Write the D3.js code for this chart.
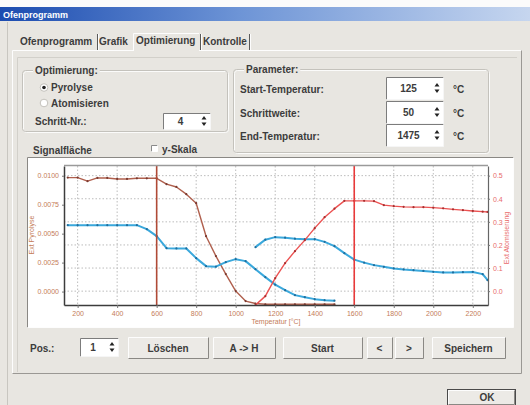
<!DOCTYPE html>
<html>
<head>
<meta charset="utf-8">
<script src="https://cdn.jsdelivr.net/npm/d3@7"></script>
<style>
  body { margin: 0; background: #e8e6e1; }
  svg { display: block; font-family: "Liberation Sans", Arial, sans-serif; }
</style>
</head>
<body>
<svg id="dlg" width="530" height="405"></svg>
<script>
// temperature steps [°C]
const temps = [150, 200, 250, 300, 350, 400, 450, 500, 550, 600, 650, 700, 750, 800, 850, 900, 950, 1000, 1050,
  1100, 1150, 1200, 1250, 1300, 1350, 1400, 1450, 1500, 1550, 1600, 1650, 1700, 1750, 1800, 1850, 1900, 1950,
  2000, 2050, 2100, 2150, 2200, 2250, 2275]
// Ext Pyrolyse (left axis)
const extPyrolyse = [0.00984, 0.00984, 0.00953, 0.00981, 0.00981, 0.00972, 0.00972, 0.00978, 0.00978, 0.00978,
  0.00927, 0.00903, 0.00841, 0.00763, 0.00478, 0.00306, 0.00151, 0.00004, -0.00082, -0.00103, -0.0011, -0.0011,
  -0.0011, -0.0011, -0.0011, -0.0011, -0.0011, -0.0011,
  null, null, null, null, null, null, null, null, null, null, null, null, null, null, null, null]
// blue curves (right axis)
const signalA = [0.2857, 0.2857, 0.2857, 0.2857, 0.2857, 0.2857, 0.2857, 0.2857, 0.2684, 0.2381, 0.1861, 0.1848,
  0.1848, 0.1429, 0.1082, 0.1061, 0.1255, 0.1385, 0.1299, 0.0952, 0.0606, 0.0281, 0.0043, -0.0173, -0.026,
  -0.0346, -0.039, -0.0411,
  null, null, null, null, null, null, null, null, null, null, null, null, null, null, null, null]
const signalB = [null, null, null, null, null, null, null, null, null, null, null, null, null, null, null, null,
  null, null, null,
  0.1905, 0.2229, 0.2338, 0.2316, 0.2273, 0.2251, 0.2251, 0.2134, 0.1948, 0.1645, 0.1364, 0.1234, 0.1126, 0.1052,
  0.0983, 0.0939, 0.0909, 0.0874, 0.0835, 0.081, 0.081, 0.0823, 0.0831, 0.0736, 0.0476]
// Ext Atomisierung (right axis)
const extAtom = [null, null, null, null, null, null, null, null, null, null, null, null, null, null, null, null,
  null, null, null,
  -0.0606, -0.0216, 0.0563, 0.1212, 0.1732, 0.2208, 0.2727, 0.3203, 0.3571, 0.3909, 0.3909, 0.3909, 0.3896, 0.3723,
  0.368, 0.365, 0.3636, 0.3636, 0.3615, 0.3584, 0.3541, 0.3506, 0.3472, 0.3442, 0.3429]

const xTicks = [200, 400, 600, 800, 1000, 1200, 1400, 1600, 1800, 2000, 2200]
const pyroTicks = [0, 0.0025, 0.005, 0.0075, 0.01]
const atomTicks = [0, 0.1, 0.2, 0.3, 0.4, 0.5]
const markTemps = [600, 1600]

const tabs = ['Ofenprogramm', 'Grafik', 'Optimierung', 'Kontrolle']
const paramLabels = ['Start-Temperatur:', 'Schrittweite:', 'End-Temperatur:']
const paramValues = [125, 50, 1475]
const buttons = ['Löschen', 'A -> H', 'Start', '<', '>', 'Speichern']

const svg = d3.select('#dlg')
const txt = '#3c3c3c'

// ---------- helpers ----------
function bevel(g, x, y, w, h, tl, br, fill) {
    g.append('rect').attr('x', x).attr('y', y).attr('width', w).attr('height', h).attr('fill', fill || 'none')
    g.append('path').attr('d', `M${x},${y + h}V${y}H${x + w}`).attr('fill', 'none').attr('stroke', tl)
    g.append('path').attr('d', `M${x + w},${y}V${y + h}H${x}`).attr('fill', 'none').attr('stroke', br)
}
function label(g, x, y, s, opt) {
    opt = opt || {}
    return g.append('text').attr('x', x).attr('y', y).text(s)
        .attr('font-size', opt.size || 10).attr('font-weight', opt.weight || 'bold')
        .attr('fill', opt.color || txt).attr('text-anchor', opt.anchor || 'start')
}
function spin(g, x, y, w, h, val) {
    bevel(g, x + 0.5, y + 0.5, w, h, '#7c7c7c', '#f6f6f6', '#fff')
    label(g, x + (w - 12) / 2, y + h / 2 + 3.5, val, {anchor: 'middle'})
    let cx = x + w - 6, cy = y + h / 2
    g.append('path').attr('d', `M${cx - 2.5},${cy - 1.5}L${cx + 2.5},${cy - 1.5}L${cx},${cy - 5}Z`).attr('fill', '#222')
    g.append('path').attr('d', `M${cx - 2.5},${cy + 1.5}L${cx + 2.5},${cy + 1.5}L${cx},${cy + 5}Z`).attr('fill', '#222')
}
function group(g, x, y, w, h, title) {
    g.append('rect').attr('x', x + 1.5).attr('y', y + 1.5).attr('width', w).attr('height', h).attr('rx', 3)
        .attr('fill', 'none').attr('stroke', '#fbfbfa')
    g.append('rect').attr('x', x + 0.5).attr('y', y + 0.5).attr('width', w).attr('height', h).attr('rx', 3)
        .attr('fill', 'none').attr('stroke', '#c4c2bc')
    let t = label(g, x + 13, y + 3.5, title)
    let bb = t.node().getBBox()
    g.insert('rect', () => t.node()).attr('x', bb.x - 2).attr('y', bb.y).attr('width', bb.width + 4)
        .attr('height', bb.height).attr('fill', '#e8e6e1')
}

// ---------- window frame ----------
const defs = svg.append('defs')
const grad = defs.append('linearGradient').attr('id', 'title')
grad.append('stop').attr('offset', '0%').attr('stop-color', '#1c4cb0')
grad.append('stop').attr('offset', '45%').attr('stop-color', '#6d94d6')
grad.append('stop').attr('offset', '100%').attr('stop-color', '#c6d6ef')
svg.append('rect').attr('width', 530).attr('height', 7).attr('fill', '#fbfbfb')
svg.append('rect').attr('y', 7).attr('width', 530).attr('height', 14).attr('fill', 'url(#title)')
label(svg, 3, 18, 'Ofenprogramm', {size: 9, color: '#fff'})

// tab page
const page = svg.append('g')
page.append('path').attr('d', 'M7.5,22V405').attr('stroke', '#c8c6c0')
bevel(page, 12.5, 50.5, 509, 323, '#fdfdfd', '#9a9894')
page.append('path').attr('d', 'M17.5,372V57.5H517').attr('fill', 'none').attr('stroke', '#d2d0ca')
// tab strip
const tabX = [20, 99, 136, 203]
const sepX = [97, 200, 249]
tabs.forEach((t, i) => label(page, tabX[i], i === 2 ? 44 : 45, t))
page.append('path').attr('d', 'M133.5,50V33.5H199').attr('fill', 'none').attr('stroke', '#fdfdfd')
page.append('rect').attr('x', 134).attr('y', 50).attr('width', 65).attr('height', 1.5).attr('fill', '#e8e6e1')
sepX.forEach(s => {
    page.append('path').attr('d', `M${s + 0.5},34V50`).attr('stroke', '#5a5a5a')
    page.append('path').attr('d', `M${s + 1.5},34V50`).attr('stroke', '#fdfdfd')
})

// ---------- Optimierung group ----------
const opt = svg.append('g')
group(opt, 22, 70, 205, 61, 'Optimierung:')
opt.append('circle').attr('cx', 44).attr('cy', 87.5).attr('r', 3.8).attr('fill', '#fff').attr('stroke', '#c4c2bc')
opt.append('circle').attr('cx', 44).attr('cy', 87.5).attr('r', 1.8).attr('fill', '#222')
opt.append('circle').attr('cx', 44).attr('cy', 103).attr('r', 3.8).attr('fill', '#fff').attr('stroke', '#c4c2bc')
label(opt, 51, 91, 'Pyrolyse')
label(opt, 51, 106.5, 'Atomisieren')
label(opt, 35, 124.5, 'Schritt-Nr.:')
spin(opt, 163, 113, 47, 16, 4)

// ---------- Parameter group ----------
const par = svg.append('g')
group(par, 233, 69, 255, 83, 'Parameter:')
const boxY = [77, 101, 124]
paramLabels.forEach((p, i) => {
    label(par, 240, boxY[i] + 16, p)
    spin(par, 386, boxY[i], 57, 22, paramValues[i])
    label(par, 453, boxY[i] + 16, '°C')
})

// Signalfläche header
label(svg, 33, 153.5, 'Signalfläche')
bevel(svg, 151.5, 145.5, 6, 6, '#8a8a8a', '#fff', '#fff')
label(svg, 162, 152.5, 'y-Skala')

// ---------- chart ----------
const chart = svg.append('g')
bevel(chart, 27.5, 157.5, 486, 170, '#8a8884', '#fdfdfd', '#fff')

const x = d3.scaleLinear().domain([131, 2277]).range([64, 488])
const yL = d3.scaleLinear().domain([-0.00116, 0.01084]).range([305, 166])
const yR = d3.scaleLinear().domain([-0.06, 0.5418]).range([305, 166])

// grid
chart.selectAll('.vg').data(xTicks).enter().append('line')
    .attr('x1', d => x(d)).attr('x2', d => x(d)).attr('y1', 166).attr('y2', 305)
    .attr('stroke', '#bcbcbc').attr('stroke-dasharray', '1.5,2')
chart.selectAll('.hg').data(atomTicks).enter().append('line')
    .attr('x1', 64).attr('x2', 488).attr('y1', d => yR(d)).attr('y2', d => yR(d))
    .attr('stroke', '#bcbcbc').attr('stroke-dasharray', '1.5,2')

defs.append('clipPath').attr('id', 'plotclip').append('rect')
    .attr('x', 64).attr('y', 166).attr('width', 424).attr('height', 139)
const plot = chart.append('g').attr('clip-path', 'url(#plotclip)')

function drawSeries(values, scale, color, width, dot) {
    let pts = temps.map((t, i) => [t, values[i]])
    let line = d3.line().defined(d => d[1] != null).x(d => x(d[0])).y(d => scale(d[1]))
    plot.append('path').attr('d', line(pts)).attr('fill', 'none')
        .attr('stroke', color).attr('stroke-width', width).attr('stroke-linejoin', 'round')
    plot.selectAll(null).data(pts.filter(d => d[1] != null)).enter().append('circle')
        .attr('cx', d => x(d[0])).attr('cy', d => scale(d[1])).attr('r', 1.1).attr('fill', dot)
}
drawSeries(extPyrolyse, yL, '#b0604e', 1.4, '#7a3a30')
drawSeries(signalA, yR, '#3aa8dc', 2, '#1f6e9e')
drawSeries(signalB, yR, '#3aa8dc', 2, '#1f6e9e')
drawSeries(extAtom, yR, '#ec5252', 1.4, '#a83030')

// temperature markers
chart.selectAll('.mk').data(markTemps).enter().append('line')
    .attr('x1', d => x(d)).attr('x2', d => x(d)).attr('y1', 166).attr('y2', 305)
    .attr('stroke', (d, i) => i === 0 ? '#b04a36' : '#e83a3a').attr('stroke-width', 1.6)

// axes
function styleAxis(g, color) {
    g.attr('font-family', null).attr('font-size', null)
    g.selectAll('text').attr('font-size', 7).attr('fill', color)
    g.selectAll('line').attr('stroke', '#777')
}
chart.append('path').attr('d', 'M64,165.5H488').attr('stroke', '#9a9a9a').attr('stroke-width', 1.5)
const axL = chart.append('g').attr('transform', 'translate(64,0)')
    .call(d3.axisLeft(yL).tickValues(pyroTicks).tickFormat(d3.format('.4f')).tickSize(2).tickSizeOuter(0))
styleAxis(axL, '#c47c58')
axL.select('.domain').attr('stroke', '#3c3c3c').attr('stroke-width', 1.5)
const axR = chart.append('g').attr('transform', 'translate(488,0)')
    .call(d3.axisRight(yR).tickValues(atomTicks).tickFormat(d3.format('.1f')).tickSize(2).tickSizeOuter(0))
styleAxis(axR, '#e86a6a')
axR.select('.domain').attr('stroke', '#666').attr('stroke-width', 1.2)
const axB = chart.append('g').attr('transform', 'translate(0,305)')
    .call(d3.axisBottom(x).tickValues(xTicks).tickFormat(d3.format('d')).tickSize(3).tickSizeOuter(0))
styleAxis(axB, '#c47c58')
axB.select('.domain').attr('stroke', '#3c3c3c').attr('stroke-width', 1.5)

chart.append('text').attr('transform', 'translate(34,235) rotate(-90)').attr('text-anchor', 'middle')
    .attr('font-size', 7).attr('fill', '#c47c58').text('Ext Pyrolyse')
chart.append('text').attr('transform', 'translate(509,238) rotate(-90)').attr('text-anchor', 'middle')
    .attr('font-size', 7).attr('fill', '#e86a6a').text('Ext Atomisierung')
chart.append('text').attr('x', 276).attr('y', 324).attr('text-anchor', 'middle')
    .attr('font-size', 7).attr('fill', '#c47c58').text('Temperatur [°C]')

// ---------- bottom controls ----------
const ctl = svg.append('g')
label(ctl, 30, 351.5, 'Pos.:')
spin(ctl, 80, 338, 38, 18, 1)
const btnX = [128, 213, 283, 367, 395, 432]
const btnW = [80, 62, 79, 25, 28, 73]
buttons.forEach((b, i) => {
    bevel(ctl, btnX[i] + 0.5, 337.5, btnW[i], 21, '#fdfdfd', '#8a8884', '#eceae6')
    label(ctl, btnX[i] + btnW[i] / 2, 351.5, b, {anchor: 'middle'})
})
ctl.append('rect').attr('x', 447.5).attr('y', 389.5).attr('width', 68).attr('height', 16)
    .attr('fill', '#eceae6').attr('stroke', '#4a4a4a')
bevel(ctl, 448.5, 390.5, 66, 14, '#fdfdfd', '#8a8884')
label(ctl, 487, 401, 'OK', {anchor: 'middle'})
</script>
</body>
</html>
